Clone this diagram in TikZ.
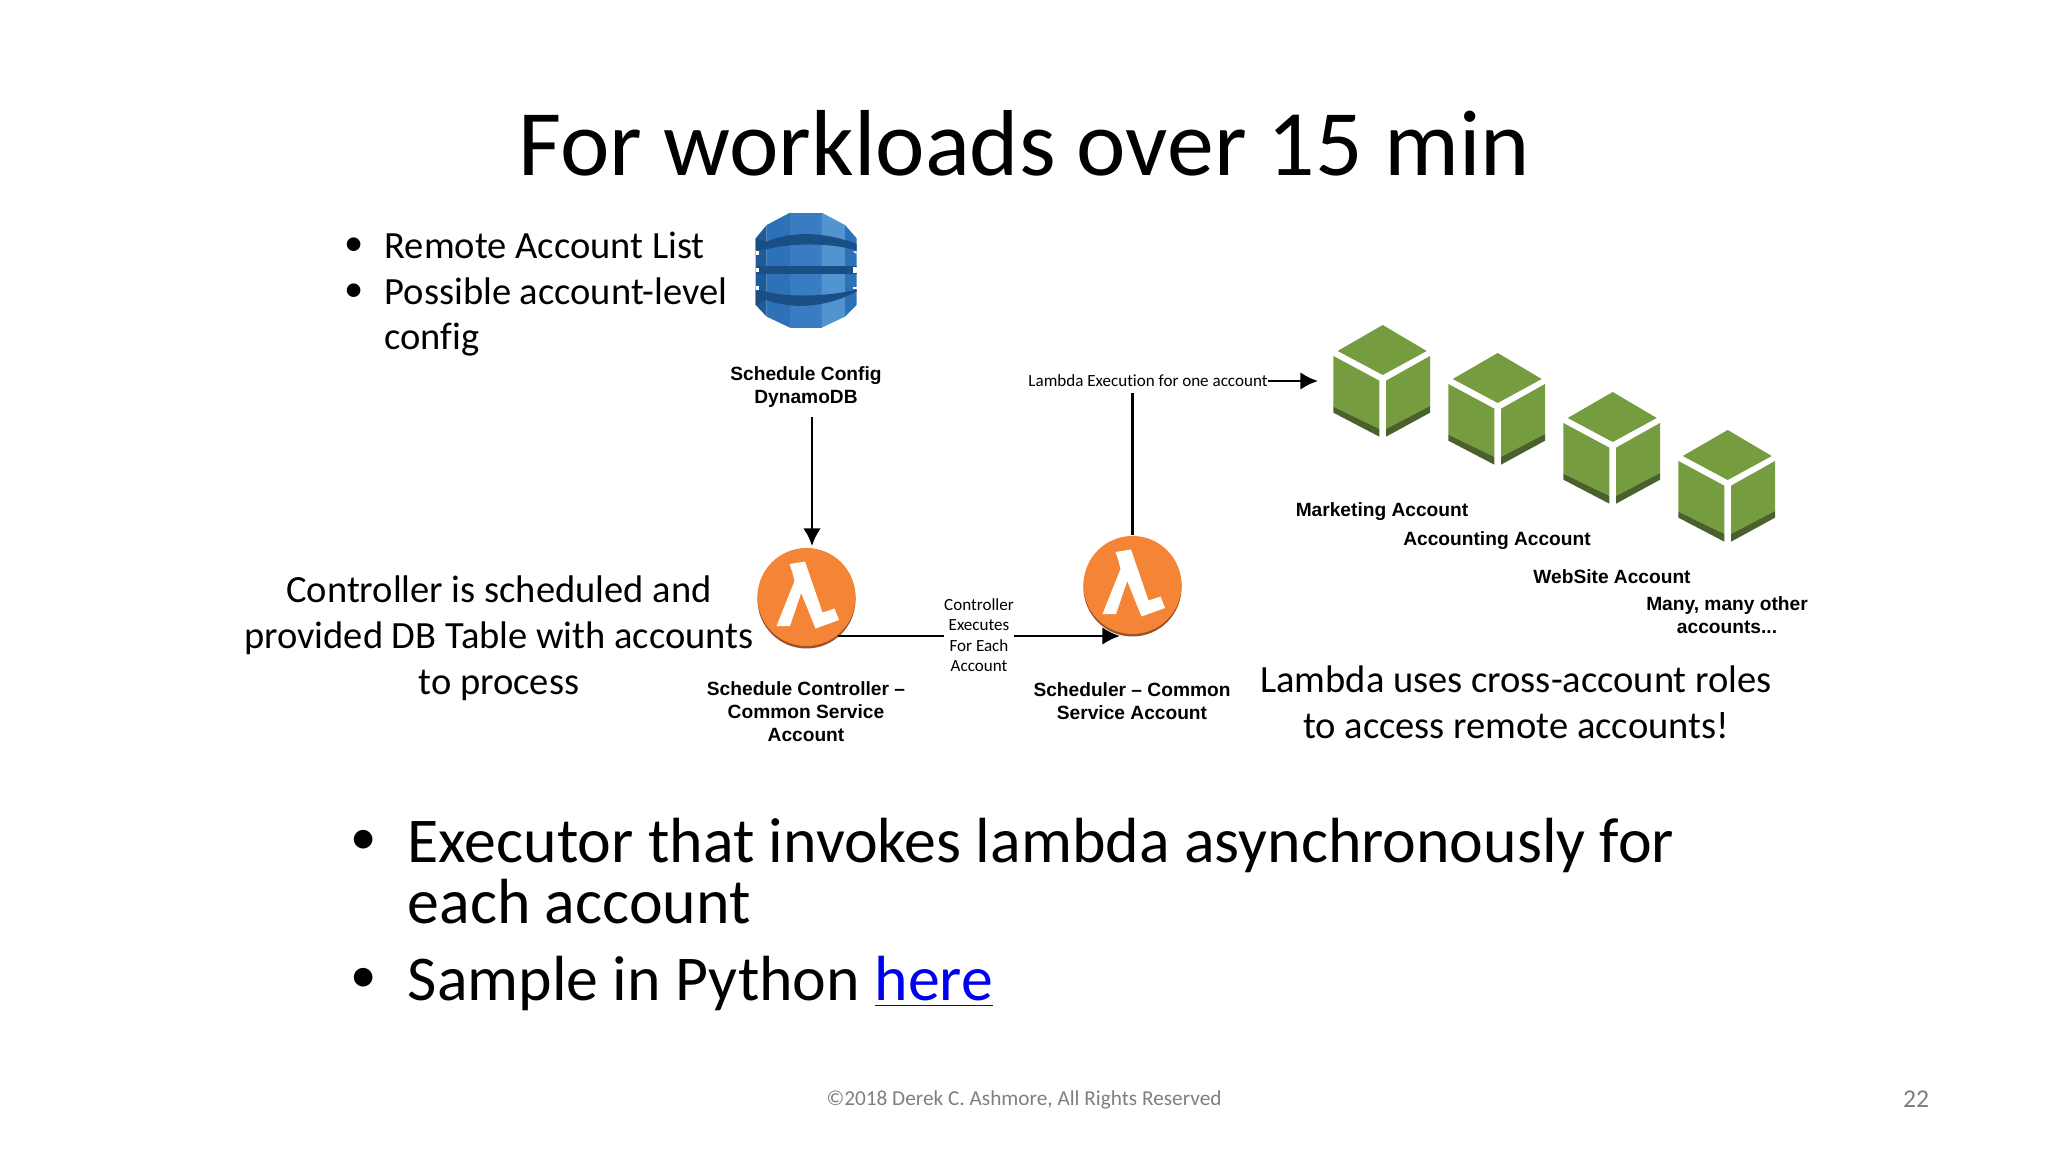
\documentclass[tikz,border=0pt]{standalone}
\usepackage{fontspec}
\setmainfont{Carlito}[Ligatures=NoCommon]
\newfontfamily\labelfont{Liberation Sans}
\usetikzlibrary{arrows.meta}
\usetikzlibrary{positioning}
\definecolor{awsorange}{HTML}{F58536}
\definecolor{awsorangedark}{HTML}{9D5025}
\definecolor{awsgreen}{HTML}{759C3E}
\definecolor{awsgreendark}{HTML}{4B612C}
\definecolor{dbdarkest}{HTML}{205B99}
\definecolor{dbdark}{HTML}{2D72B8}
\definecolor{dbmid}{HTML}{3A7CC2}
\definecolor{dblight}{HTML}{5294CF}
\definecolor{dbband}{HTML}{1A4F85}
\definecolor{footgray}{HTML}{7F7F7F}
\definecolor{linkblue}{HTML}{0000F0}
\tikzset{
  titletext/.style={font=\fontsize{26.65}{32}\selectfont},
  bigtext/.style={anchor=west,inner sep=0pt,font=\fontsize{18.15}{20}\selectfont},
  bigdot/.style={anchor=west,inner sep=0pt,font=\fontsize{15}{18}\selectfont},
  bodytext/.style={align=center,inner sep=0pt,font=\fontsize{10.95}{13.1pt}\selectfont},
  listtext/.style={anchor=west,inner sep=0pt,font=\fontsize{10.95}{13}\selectfont},
  boldlabel/.style={align=center,inner sep=0pt,font=\labelfont\bfseries\fontsize{5.45}{6.5pt}\selectfont},
  notetext/.style={align=center,inner sep=0pt,font=\fontsize{4.85}{5.85pt}\selectfont},
  foottext/.style={inner sep=0pt,text=footgray,font=\fontsize{6.05}{8}\selectfont},
  lambdaicon/.style={circle,inner sep=0pt,minimum size=0.98cm,fill=awsorange,
    preaction={fill=awsorangedark,transform canvas={yshift=-0.7pt}}},
  flowline/.style={line width=0.75pt},
  flowarrow/.style={line width=0.75pt,-{Latex[length=5pt,width=5pt]}},
  pics/lambdamark/.style={code={
    \fill[white] (-17,-33) -- (-1.5,-35.5) -- (16,15.5) -- (28,11.5) -- (32.5,23)
      -- (9,31.5) -- (-5.3,-4) -- (-16.5,29) -- (-30,29) -- (-12,-16) -- (-14,-24.3) -- cycle;
  }},
  pics/accountcube/.style={code={
    \fill[awsgreen] (0,-50) -- (44,-24) -- (0,0) -- (-45,-24) -- cycle;
    \fill[awsgreen] (-49.3,-19) -- (-3.3,5.7) -- (-3.3,54) -- (-49.3,31.7) -- cycle;
    \fill[awsgreen] (3.3,5.7) -- (47.3,-19) -- (47.3,31) -- (3.3,54) -- cycle;
    \fill[awsgreendark] (-49.3,31.7) -- (-3.3,54) -- (-3.3,61.7) -- (-49.3,37.7) -- cycle;
    \fill[awsgreendark] (3.3,54) -- (47.3,31) -- (47.3,37.7) -- (3.3,61.7) -- cycle;
  }},
  pics/dynamoicon/.style={code={
    \begin{scope}[scale=1/3]
      \fill[dbdarkest] (107,145) -- (140,105) -- (140,380) -- (107,345) -- cycle;
      \fill[dbdark] (140,105) -- (210,68) -- (210,413) -- (140,380) -- cycle;
      \fill[dbmid] (210,68) rectangle (305,413);
      \fill[dblight] (305,68) -- (375,105) -- (375,380) -- (305,413) -- cycle;
      \fill[dbdark] (375,105) -- (410,145) -- (410,345) -- (375,380) -- cycle;
      \fill[dbband] (107,145) -- (140,155) .. controls (210,125) and (305,122) .. (410,162)
        -- (410,182) .. controls (340,158) and (210,158) .. (140,178) -- (107,180) -- cycle;
      \fill[dbband] (107,228) rectangle (410,253);
      \fill[dbband] (107,345) -- (140,330) .. controls (210,356) and (305,358) .. (410,305)
        -- (410,298) .. controls (340,318) and (210,324) .. (140,305) -- (107,300) -- cycle;
      \fill[white] (107,182) rectangle (118,195);
      \fill[white] (107,235) rectangle (118,247);
      \fill[white] (107,288) rectangle (118,300);
      \fill[white] (398,184) -- (410,184) -- (410,192) -- cycle;
      \fill[white] (398,230) rectangle (410,248);
      \fill[white] (398,290) rectangle (410,298);
    \end{scope}
  }}
}
\begin{document}
\begin{tikzpicture}[x=0.01cm,y=-0.01cm]
  \useasboundingbox (0,0) rectangle (2048,1152);
  \node[titletext] (title) at (1024,143) {For workloads over 15 min};

  % top left list
  \node[listtext] (dot1) at (344,247) {•};
  \node[listtext] (list1) at (384,245) {Remote Account List};
  \node[listtext] (dot2) at (344,293) {•};
  \node[listtext] (list2) at (384,291) {Possible account-level};
  \node[listtext] (list3) at (384,340) {config};

  % icons
  \pic at (720,190) {dynamoicon};
  \node[lambdaicon] (ctrl) at (806.5,597) {};
  \node[lambdaicon] (sched) at (1132.5,585) {};
  \pic at (ctrl) {lambdamark};
  \pic at (sched) {lambdamark};
  \pic at (1382.7,375) {accountcube};
  \pic at (1497.7,403) {accountcube};
  \pic at (1612.7,442) {accountcube};
  \pic at (1727.7,480) {accountcube};

  % labels
  \node[boldlabel] (cfglabel) at (806,387) {Schedule Config\\DynamoDB};
  \node[boldlabel] (ctrllabel) at (806,712) {Schedule Controller –\\Common Service\\Account};
  \node[boldlabel] (schedlabel) at (1132,701) {Scheduler – Common\\Service Account};
  \node[boldlabel] (mktlabel) at (1382,512) {Marketing Account};
  \node[boldlabel] (acclabel) at (1497,541) {Accounting Account};
  \node[boldlabel] (weblabel) at (1612,577) {WebSite Account};
  \node[boldlabel] (otherlabel) at (1727,615) {Many, many other\\accounts...};
  \node[notetext] (execnote) at (979,635) {Controller\\Executes\\For Each\\Account};
  \node[notetext] (onelabel) at (1148,381) {Lambda Execution for one account};
  \node[bodytext] (ctrltext) at (499,638) {Controller is scheduled and\\provided DB Table with accounts\\to process};
  \node[bodytext] (roletext) at (1516,702) {Lambda uses cross-account roles\\to access remote accounts!};

  % connectors
  \coordinate (cfgout) at (812,417);
  \coordinate (ctrlin) at (812,546);
  \coordinate (ctrlout) at (838,636);
  \coordinate (schedin) at (1120,636);
  \coordinate (mktin) at (1318,381);
  \coordinate (schedup) at (1132.5,393);
  \draw[flowarrow] (cfgout) -- (ctrlin);
  \draw[flowline] (ctrlout) -- (ctrlout -| execnote.west);
  \draw[flowarrow] (schedin -| execnote.east) -- (schedin);
  \draw[flowline] (schedup) -- (sched.north);
  \draw[flowarrow] (onelabel.east) -- (mktin);

  % bottom list
  \node[bigdot] (bdot1) at (350,842) {•};
  \node[bigtext] (big1) at (407,845) {Executor that invokes lambda asynchronously for};
  \node[bigtext] (big2) at (407,902) {each account};
  \node[bigdot] (bdot2) at (350,980) {•};
  \node[bigtext] (big3) at (407,983) {Sample in Python \textcolor{linkblue}{\underline{here}}};

  % footer
  \node[foottext] (copy) at (1024,1100) {©2018 Derek C. Ashmore, All Rights Reserved};
  \node[foottext,font=\fontsize{7.3}{9}\selectfont] (page) at (1916,1099) {22};
\end{tikzpicture}
\end{document}
